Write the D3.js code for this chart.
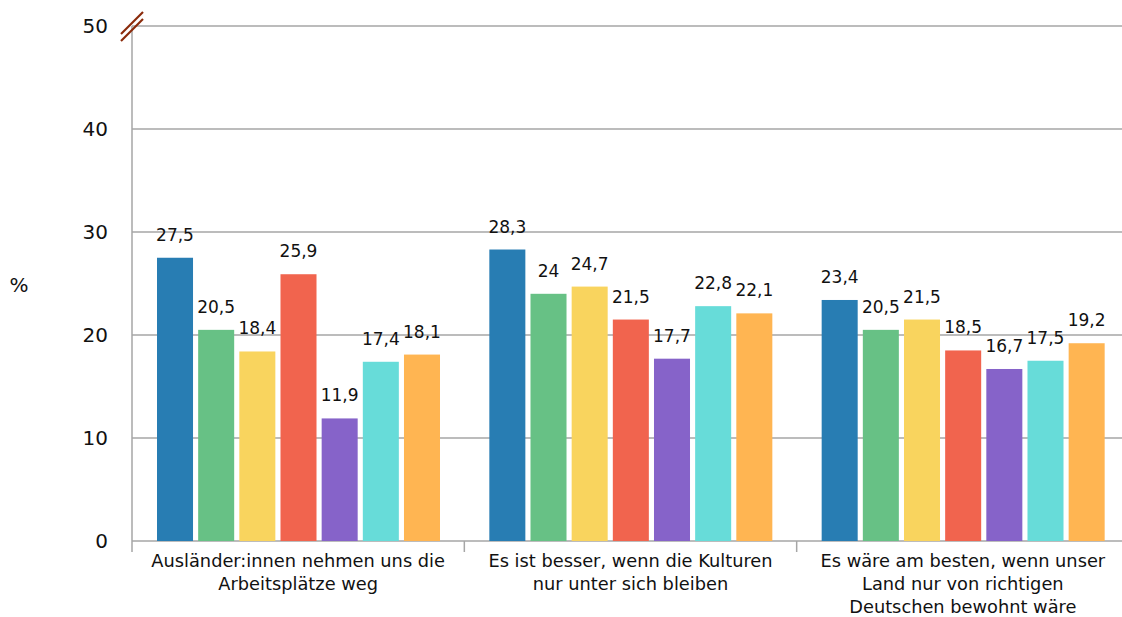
<!DOCTYPE html>
<html><head><meta charset="utf-8">
<script src="https://cdn.jsdelivr.net/npm/d3@7"></script>
<style>body{margin:0;background:#fff}svg{display:block;font-family:"DejaVu Sans",sans-serif}</style>
</head><body><svg id="c" width="1122" height="617"></svg>
<script>
const categories = [
  ["Ausländer:innen nehmen uns die", "Arbeitsplätze weg"],
  ["Es ist besser, wenn die Kulturen", "nur unter sich bleiben"],
  ["Es wäre am besten, wenn unser", "Land nur von richtigen", "Deutschen bewohnt wäre"]
];
const seriesNames = ["s1","s2","s3","s4","s5","s6","s7"];
const values = [
  [27.5, 20.5, 18.4, 25.9, 11.9, 17.4, 18.1],
  [28.3, 24, 24.7, 21.5, 17.7, 22.8, 22.1],
  [23.4, 20.5, 21.5, 18.5, 16.7, 17.5, 19.2]
];
const colors = ["#287db3","#67c185","#f9d45e","#f1644e","#8663c9","#67dcd9","#ffb552"];
const yTicks = [0,10,20,30,40,50];

(function(){
const svg = d3.select("#c");
const L = 132, R = 1129, T = 26, B = 541;
const x0 = d3.scaleBand().domain(d3.range(categories.length)).range([L, R]).paddingInner(0).paddingOuter(0);
const x1 = d3.scaleBand().domain(d3.range(seriesNames.length)).range([25, 308]).paddingInner(0.125);
const y = d3.scaleLinear().domain([0,50]).range([B, T]);

svg.append("g").selectAll("line").data(yTicks).join("line")
  .attr("x1", L).attr("x2", 1122).attr("y1", d=>y(d)).attr("y2", d=>y(d))
  .attr("stroke", "#a6a6a6").attr("stroke-width", 1.5);
svg.append("line").attr("x1",L).attr("x2",L).attr("y1",T).attr("y2",552).attr("stroke","#a6a6a6").attr("stroke-width",1.5);
svg.append("g").selectAll("line").data([1,2]).join("line")
  .attr("x1", d=>x0(d)).attr("x2", d=>x0(d)).attr("y1", B).attr("y2", 552)
  .attr("stroke","#a6a6a6").attr("stroke-width",1.5);
svg.append("g").selectAll("text").data(yTicks).join("text")
  .attr("x", 108).attr("y", d=>y(d)).attr("dy","0.36em").attr("text-anchor","end")
  .attr("font-size",20).attr("fill","#111").text(d=>d);
svg.append("text").attr("x",19).attr("y",285).attr("dy","0.36em").attr("text-anchor","middle")
  .attr("font-size",20).attr("fill","#111").text("%");

const g = svg.append("g").selectAll("g").data(values).join("g")
  .attr("transform",(d,i)=>`translate(${x0(i)},0)`);
g.selectAll("rect").data(d=>d).join("rect")
  .attr("x",(d,j)=>x1(j)).attr("width",x1.bandwidth())
  .attr("y",d=>y(d)).attr("height",d=>B-y(d))
  .attr("fill",(d,j)=>colors[j]);
g.selectAll("text").data(d=>d).join("text")
  .attr("x",(d,j)=>x1(j)+x1.bandwidth()/2).attr("y",d=>y(d)-17)
  .attr("text-anchor","middle").attr("font-size",17).attr("fill","#111")
  .text(d=>String(d).replace(".",","));

const cl = svg.append("g").selectAll("text").data(categories).join("text")
  .attr("x",(d,i)=>x0(i)+x0.bandwidth()/2).attr("y",567)
  .attr("text-anchor","middle").attr("font-size",17.8).attr("fill","#111");
cl.selectAll("tspan").data(d=>d).join("tspan")
  .attr("x",function(){return this.parentNode.getAttribute("x");})
  .attr("dy",(d,i)=>i===0?0:23).text(d=>d);

svg.append("g").selectAll("line").data([0,7]).join("line")
  .attr("x1",121).attr("y1",d=>34+d).attr("x2",143).attr("y2",d=>12+d)
  .attr("stroke","#8a2a0a").attr("stroke-width",2.2);
})();
</script></body></html>
